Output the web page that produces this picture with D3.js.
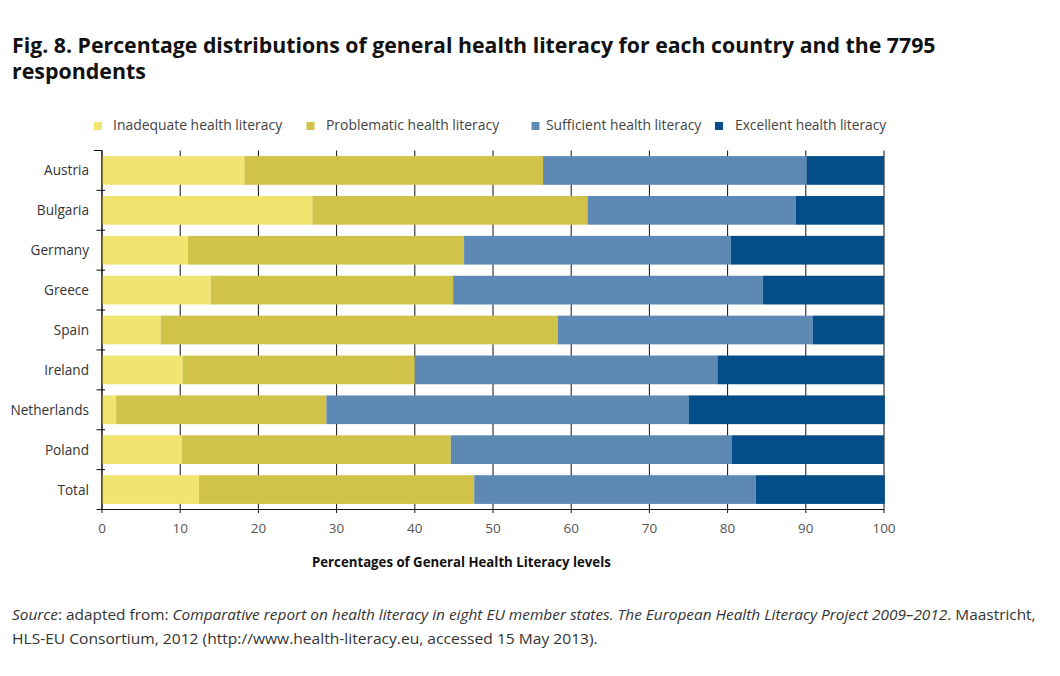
<!DOCTYPE html>
<html><head><meta charset="utf-8">
<script src="https://cdn.jsdelivr.net/npm/d3@7"></script>
<style>
html,body{margin:0;padding:0;background:#fff;}
svg{display:block;font-family:"Open Sans",sans-serif;}
</style></head>
<body>
<svg id="chart" width="1060" height="676"></svg>
<script>
const categories = ["Austria","Bulgaria","Germany","Greece","Spain","Ireland","Netherlands","Poland","Total"];
const seriesNames = ["Inadequate health literacy","Problematic health literacy","Sufficient health literacy","Excellent health literacy"];
const inadequate  = [18.2, 26.9, 11.0, 13.9,  7.5, 10.3,  1.8, 10.2, 12.4];
const problematic = [38.2, 35.2, 35.3, 31.0, 50.8, 29.7, 26.9, 34.4, 35.2];
const sufficient  = [33.7, 26.6, 34.1, 39.6, 32.6, 38.7, 46.3, 35.9, 36.0];
const excellent   = [ 9.9, 11.3, 19.6, 15.5,  9.1, 21.3, 25.1, 19.5, 16.5];
const xTicks = [0,10,20,30,40,50,60,70,80,90,100];
const colors = ["#f2e56f","#d1c34a","#5e89b5","#034e88"];

const svg = d3.select("#chart");

// horizontal fit helper: scales text horizontally about its anchor x
function fit(sel, x0, target){
  const w = sel.node().getBBox().width;
  const s = target / w;
  sel.attr("transform", `translate(${x0},0) scale(${s},1) translate(${-x0},0)`);
}

// Title
const t1 = svg.append("text").attr("x",12).attr("y",52.7)
  .attr("font-size",20.5).attr("font-weight","bold").attr("fill","#111")
  .text("Fig. 8. Percentage distributions of general health literacy for each country and the 7795");
fit(t1, 12, 924);
const t2 = svg.append("text").attr("x",12).attr("y",79.3)
  .attr("font-size",20.5).attr("font-weight","bold").attr("fill","#111")
  .text("respondents");
fit(t2, 12, 134);

// scales
const x = d3.scaleLinear().domain([0,100]).range([102,884]);
const y = d3.scaleBand().domain(categories).range([150.5,509.5]).paddingInner(0.28).paddingOuter(0.14);

// gridlines
const grid = svg.append("g");
grid.selectAll("line").data(xTicks).join("line")
  .attr("x1",d=>x(d)).attr("x2",d=>x(d))
  .attr("y1",150.5).attr("y2",513)
  .attr("stroke","#111").attr("stroke-width",1);

// stacked bars
const rows = categories.map((c,i)=>({cat:c, v:[inadequate[i],problematic[i],sufficient[i],excellent[i]]}));
const stack = d3.stack().keys([0,1,2,3]).value((d,k)=>d.v[k]);
const stacked = stack(rows);
svg.append("g").selectAll("g").data(stacked).join("g")
  .attr("fill",(d,i)=>colors[i])
  .selectAll("rect").data(d=>d).join("rect")
  .attr("x",d=>x(d[0])).attr("width",d=>x(d[1])-x(d[0]))
  .attr("y",d=>y(d.data.cat)).attr("height",y.bandwidth());

// y axis line & ticks
const ax = svg.append("g").attr("stroke","#111").attr("stroke-width",1);
ax.append("line").attr("x1",102).attr("x2",102).attr("y1",150.5).attr("y2",509.5);
ax.append("line").attr("x1",94).attr("x2",102).attr("y1",150.5).attr("y2",150.5);
const step = y.step();
ax.selectAll("line.bt").data(d3.range(1,categories.length)).join("line").attr("class","bt")
  .attr("x1",96.5).attr("x2",105).attr("y1",i=>150.5+i*step).attr("y2",i=>150.5+i*step);
// x axis line
ax.append("line").attr("x1",96.5).attr("x2",884).attr("y1",509.5).attr("y2",509.5);

// category labels
svg.append("g").selectAll("text").data(categories).join("text")
  .attr("x",89).attr("y",d=>y(d)+y.bandwidth()/2+5)
  .attr("text-anchor","end").attr("font-size",14.5).attr("fill","#333")
  .text(d=>d)
  .attr("transform","translate(89,0) scale(0.94,1) translate(-89,0)");

// x tick labels
svg.append("g").selectAll("text").data(xTicks).join("text")
  .attr("x",d=>x(d)).attr("y",533)
  .attr("text-anchor","middle").attr("font-size",13.5).attr("fill","#555")
  .text(d=>d);

// axis title
const at = svg.append("text").attr("x",312).attr("y",567.3)
  .attr("font-size",14).attr("font-weight","bold").attr("fill","#111")
  .text("Percentages of General Health Literacy levels");
fit(at, 312, 299);

// legend
const legX = [94, 306.5, 531.5, 715];
const legTextX = [113, 326, 546, 735];
const legW = [170, 174, 156, 152];
const leg = svg.append("g");
seriesNames.forEach((n,i)=>{
  leg.append("rect").attr("x",legX[i]).attr("y",122).attr("width",8).attr("height",8).attr("fill",colors[i]);
  const tt = leg.append("text").attr("x",legTextX[i]).attr("y",130.3)
    .attr("font-size",14.5).attr("fill","#444").text(n);
  fit(tt, legTextX[i], legW[i]);
});

// source
const s1 = svg.append("text").attr("x",12).attr("y",620).attr("font-size",15).attr("fill","#333");
s1.append("tspan").attr("font-style","italic").text("Source");
s1.append("tspan").text(": adapted from: ");
s1.append("tspan").attr("font-style","italic").text("Comparative report on health literacy in eight EU member states. The European Health Literacy Project 2009\u20132012");
s1.append("tspan").text(". Maastricht,");
fit(s1, 12, 1025);
const s2 = svg.append("text").attr("x",12).attr("y",644).attr("font-size",15).attr("fill","#333")
  .text("HLS-EU Consortium, 2012 (http://www.health-literacy.eu, accessed 15 May 2013).");
fit(s2, 12, 586);
</script>
</body></html>
